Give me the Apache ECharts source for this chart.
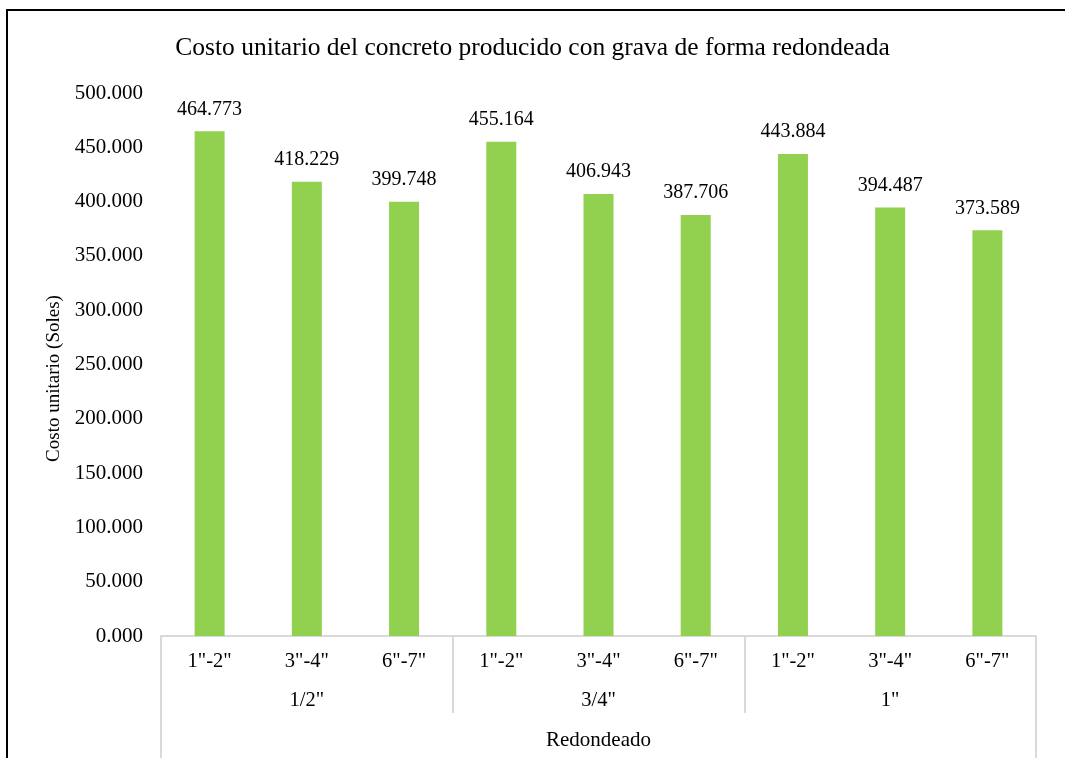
<!DOCTYPE html>
<html>
<head>
<meta charset="utf-8">
<script src="https://cdn.jsdelivr.net/npm/echarts@6/dist/echarts.min.js"></script>
<style>
html,body{margin:0;padding:0;background:#fff;overflow:hidden;}
#frame{position:absolute;left:6px;top:9px;width:3000px;height:3000px;border:2px solid #000;box-sizing:border-box;}
#chart{position:absolute;left:0;top:0;width:1065px;height:758px;}
</style>
</head>
<body>
<div id="frame"></div>
<div id="chart"></div>
<script>
const titleText = 'Costo unitario del concreto producido con grava de forma redondeada';
const yAxisName = 'Costo unitario (Soles)';
const sizes = ['1"-2"', '3"-4"', '6"-7"', '1"-2"', '3"-4"', '6"-7"', '1"-2"', '3"-4"', '6"-7"'];
const groups = ['1/2"', '3/4"', '1"'];
const outer = ['Redondeado'];
const costs = [464.773, 418.229, 399.748, 455.164, 406.943, 387.706, 443.884, 394.487, 373.589];

const font = 'Liberation Serif';
const chart = echarts.init(document.getElementById('chart'));
const gray = '#D9D9D9';
chart.setOption({
  animation: false,
  title: {
    text: titleText, left: 'center', top: 30,
    textStyle: {fontFamily: font, fontSize: 25.5, fontWeight: 'normal', color: '#000'}
  },
  grid: {left: 161, right: 29, top: 93, bottom: 122},
  xAxis: [
    {
      type: 'category', data: sizes, position: 'bottom',
      axisLine: {show: true, lineStyle: {color: gray, width: 2}},
      axisTick: {show: false},
      axisLabel: {margin: 15, fontFamily: font, fontSize: 20.5, color: '#000', interval: 0}
    },
    {
      type: 'category', data: groups, position: 'bottom',
      axisLine: {show: false},
      axisTick: {show: true, length: 77, lineStyle: {color: gray, width: 2}},
      axisLabel: {margin: 54, fontFamily: font, fontSize: 20.5, color: '#000', interval: 0}
    },
    {
      type: 'category', data: outer, position: 'bottom',
      axisLine: {show: false},
      axisTick: {show: true, length: 140, lineStyle: {color: gray, width: 2}},
      axisLabel: {margin: 94, fontFamily: font, fontSize: 21, color: '#000', interval: 0}
    }
  ],
  yAxis: {
    type: 'value', min: 0, max: 500, interval: 50,
    name: yAxisName, nameLocation: 'middle', nameGap: 96,
    nameTextStyle: {fontFamily: font, fontSize: 19, color: '#000', padding: [0, 28, 0, 0]},
    axisLine: {show: false}, axisTick: {show: false}, splitLine: {show: false},
    axisLabel: {margin: 18, fontFamily: font, fontSize: 21, color: '#000',
      formatter: v => v.toFixed(3)}
  },
  series: [{
    type: 'bar', data: costs, barWidth: 30, xAxisIndex: 0,
    itemStyle: {color: '#92D050'},
    label: {show: true, position: 'top', distance: 12, fontFamily: font, fontSize: 20, color: '#000',
      formatter: p => p.value.toFixed(3)}
  }]
});
</script>
</body>
</html>
